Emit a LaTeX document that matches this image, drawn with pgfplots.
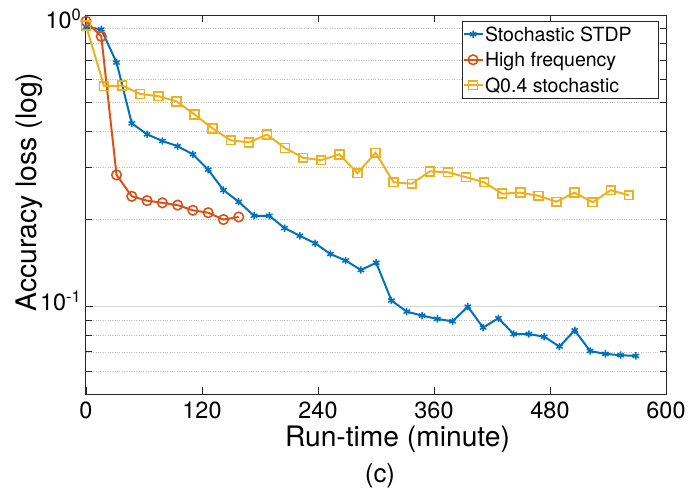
\documentclass[border=0pt]{standalone}
\usepackage{fontspec}
\setmainfont{TeX Gyre Heros}
\usepackage{pgfplots}
\pgfplotsset{compat=1.18}

\definecolor{mblue}{rgb}{0,0.447,0.741}
\definecolor{morange}{rgb}{0.85,0.325,0.098}
\definecolor{myellow}{rgb}{0.929,0.694,0.125}
\definecolor{axgray}{rgb}{0.15,0.15,0.15}

\newcommand{\supsc}[1]{\raisebox{8.3bp}{\fontsize{16.5}{16.5}\selectfont #1}}

\begin{document}
\begin{tikzpicture}
\useasboundingbox (-86bp,-101bp) rectangle (602bp,394bp);
\begin{axis}[
  at={(0,0)}, anchor=south west,
  scale only axis, width=580bp, height=379bp,
  xmin=0, xmax=600, ymin=0.0502, ymax=1,
  ymode=log,
  axis line style={axgray, line width=1bp},
  tick style={axgray, line width=0.8bp},
  tick align=inside,
  major tick length=7bp, minor tick length=6bp,
  tick label style={font=\fontsize{23.5}{24}\selectfont},
  xtick={0,120,240,360,480,600},
  xticklabels={0,120,240,360,480,600},
  xticklabel style={anchor=base, yshift=-24bp},
  ytick={0.1,1},
  yticklabels={10\supsc{-1}, \raisebox{-9.6bp}{10\supsc{0}}},
  yticklabel style={anchor=base east, inner sep=0pt, xshift=-5bp, yshift=-4bp},
  minor ytick={0.06,0.07,0.08,0.09,0.2,0.3,0.4,0.5,0.6,0.7,0.8,0.9},
  ymajorgrids, yminorgrids,
  major grid style={black!16, line width=0.8bp},
  minor grid style={black!26, dotted, line width=0.7bp},
  legend cell align=left,
  legend style={at={(0.988,0.984)}, anchor=north east,
    draw=axgray, line width=0.8bp, fill=white,
    inner xsep=0.5bp, inner ysep=0pt, row sep=0pt,
    font=\fontsize{19.6}{20}\selectfont,
    nodes={text height=14bp, text depth=0bp, inner ysep=5.75bp, inner xsep=1.5bp}},
  legend image code/.code={\draw[mark repeat=2,mark phase=2,#1]
    plot coordinates {(0bp,0bp) (9.5bp,0bp) (19bp,0bp)};},
]
% Stochastic STDP
\addplot[mblue, line width=2bp, mark=asterisk, mark size=3.7bp,
  mark options={line width=1.5bp}] coordinates {
  (0,0.910) (15.8,0.893) (31.6,0.687) (47.4,0.425) (63.2,0.390)
  (79,0.370) (94.8,0.355) (110.6,0.333) (126.4,0.295) (142.2,0.251)
  (158,0.229) (173.8,0.205) (189.6,0.205) (205.4,0.186) (221.2,0.175)
  (237,0.165) (252.8,0.1516) (268.6,0.144) (284.4,0.1336) (300.2,0.1415)
  (316,0.105) (331.8,0.0962) (347.6,0.0932) (363.4,0.0908) (379.2,0.0891)
  (395,0.100) (410.8,0.0848) (426.6,0.0913) (442.4,0.0806) (458.2,0.0806)
  (474,0.0789) (489.8,0.0730) (505.6,0.0830) (521.4,0.0705) (537.2,0.0689)
  (553,0.0682) (568.8,0.0678)
};
\addlegendentry{Stochastic STDP\hspace*{25bp}}
% High frequency
\addplot[morange, line width=2bp, mark=o, mark size=4.8bp,
  mark options={line width=1.6bp}] coordinates {
  (0,0.952) (15.8,0.845) (31.6,0.283) (47.4,0.239) (63.2,0.231)
  (79,0.227) (94.8,0.223) (110.6,0.214) (126.4,0.210) (142.2,0.199)
  (158,0.203)
};
\addlegendentry{High frequency}
% Q0.4 stochastic
\addplot[myellow, line width=2bp, mark=square, mark size=4.4bp,
  mark options={line width=1.6bp}] coordinates {
  (0,0.920) (18.72,0.570) (37.44,0.573) (56.16,0.536) (74.88,0.527)
  (93.6,0.506) (112.32,0.456) (131.04,0.408) (149.76,0.372) (168.48,0.366)
  (187.2,0.389) (205.92,0.350) (224.64,0.324) (243.36,0.318) (262.08,0.333)
  (280.8,0.287) (299.52,0.337) (318.24,0.267) (336.96,0.264) (355.68,0.291)
  (374.4,0.289) (393.12,0.278) (411.84,0.267) (430.56,0.244) (449.28,0.246)
  (468,0.240) (486.72,0.229) (505.44,0.246) (524.16,0.228) (542.88,0.251)
  (561.6,0.241)
};
\addlegendentry{Q0.4 stochastic}
\end{axis}
\node[rotate=90, anchor=base, font=\fontsize{28.4}{30}\selectfont]
  at (-49bp,202bp) {Accuracy loss (log)};
\node[anchor=base, font=\fontsize{28.3}{30}\selectfont]
  at (311.5bp,-52bp) {Run-time (minute)};
\node[anchor=base, font=\fontsize{26}{28}\selectfont]
  at (294bp,-88bp) {(c)};
\end{tikzpicture}
\end{document}
